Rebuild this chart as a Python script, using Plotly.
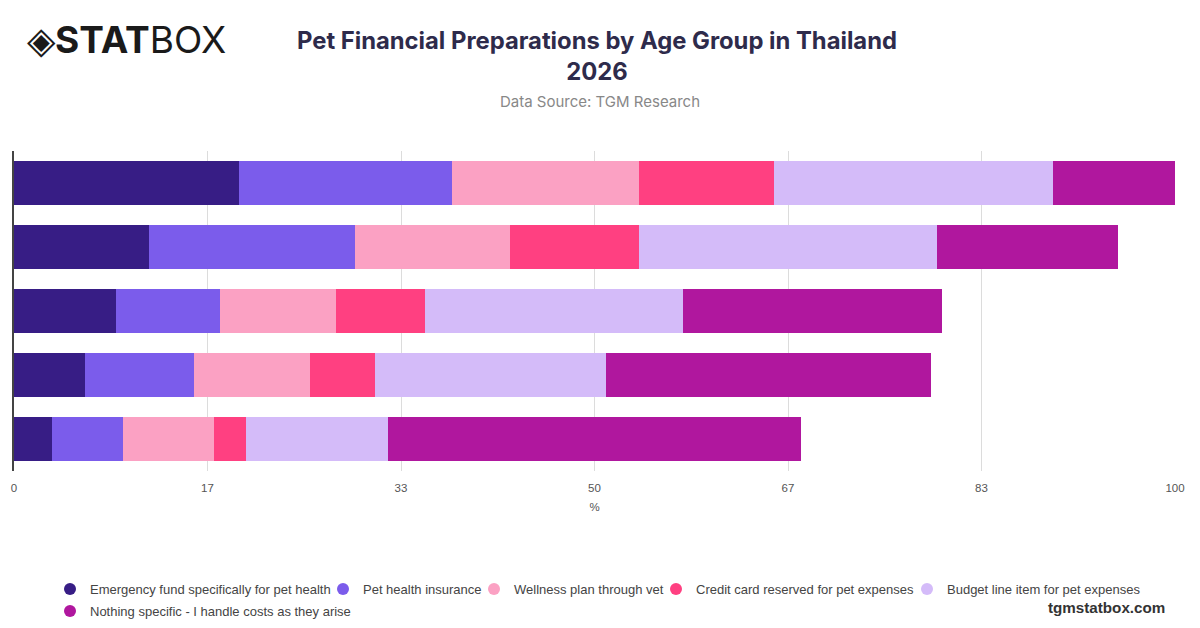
import plotly.graph_objects as go

age_groups = ["Group 1", "Group 2", "Group 3", "Group 4", "Group 5"]
series_names = [
    "Emergency fund specifically for pet health",
    "Pet health insurance",
    "Wellness plan through vet",
    "Credit card reserved for pet expenses",
    "Budget line item for pet expenses",
    "Nothing specific - I handle costs as they arise",
]
emergency_fund = [19.4, 11.6, 8.8, 6.1, 3.3]
pet_insurance = [18.3, 17.8, 8.9, 9.4, 6.1]
wellness_plan = [16.1, 13.3, 10.0, 10.0, 7.8]
credit_card = [11.7, 11.1, 7.7, 5.6, 2.8]
budget_line = [24.0, 25.7, 22.2, 19.9, 12.2]
nothing_specific = [10.5, 15.6, 22.3, 28.0, 35.6]
series_values = [emergency_fund, pet_insurance, wellness_plan, credit_card, budget_line, nothing_specific]
colors = ["#371d85", "#7b5ceb", "#fba1c3", "#ff4081", "#d4bbf9", "#b0179e"]

tick_vals = [0, 100/6, 200/6, 50, 400/6, 500/6, 100]
tick_text = ["0", "17", "33", "50", "67", "83", "100"]

W, H = 1200, 628
# plot area in pixels: x 14..1175, y 151..471
PX0, PX1, PY0, PY1 = 14, 1175, 151, 471
def cx(px):
    return px / W
def cy(py):
    return 1 - py / H

# legend entry placement (symbol centre, row centre) in pixels
legend_pos = [(70, 589), (343, 589), (494, 589), (676, 589), (927, 589), (70, 611)]
legend_ids = ["legend", "legend2", "legend3", "legend4", "legend5", "legend6"]

fig = go.Figure()
for name, vals, col in zip(series_names, series_values, colors):
    fig.add_trace(go.Bar(
        y=age_groups, x=vals, name=name, orientation="h",
        marker=dict(color=col, line=dict(width=0)),
        showlegend=False,
    ))
for name, col, lid in zip(series_names, colors, legend_ids):
    fig.add_trace(go.Scatter(
        x=[None], y=[None], mode="markers", name=name,
        marker=dict(color=col, size=15, symbol="circle"),
        legend=lid,
    ))

legend_common = dict(
    orientation="h", xanchor="left", yanchor="middle",
    xref="container", yref="container",
    font=dict(size=13, color="#444", family="Liberation Sans, Arial, sans-serif"),
    itemsizing="constant", traceorder="normal", tracegroupgap=0,
    bgcolor="rgba(0,0,0,0)", borderwidth=0,
)
legend_layout = {
    lid: dict(x=cx(px - 20), y=cy(py), **legend_common)
    for lid, (px, py) in zip(legend_ids, legend_pos)
}

fig.update_layout(
    width=W, height=H,
    barmode="stack", bargap=0.31,
    plot_bgcolor="white", paper_bgcolor="white",
    margin=dict(l=PX0, r=W - PX1, t=PY0, b=H - PY1, autoexpand=False),
    font=dict(family="Liberation Sans, Arial, sans-serif", color="#555"),
    title=dict(
        text="<b>Pet Financial Preparations by Age Group in Thailand<br>2026</b>",
        x=cx(597), xref="container", xanchor="center",
        y=cy(49), yref="container", yanchor="middle",
        font=dict(size=23.8, color="#2e2b4b", family="Inter, Roboto, sans-serif"),
    ),
    xaxis=dict(
        range=[0, 100], tickvals=tick_vals, ticktext=tick_text,
        showgrid=True, gridcolor="#dcdcdc", gridwidth=1,
        zeroline=False, showline=False,
        ticks="outside", ticklen=6, tickcolor="rgba(0,0,0,0)",
        tickfont=dict(size=11.5, color="#555"),
        title=dict(text="%", font=dict(size=11.5, color="#555"), standoff=10),
    ),
    yaxis=dict(
        autorange="reversed", showticklabels=False, showgrid=False,
        showline=True, linecolor="#444", linewidth=1.5, zeroline=False,
    ),
    annotations=[
        dict(text="Data Source: TGM Research", xref="paper", yref="paper",
             x=(600 - PX0) / (PX1 - PX0), xanchor="center",
             y=(PY1 - 101) / (PY1 - PY0), yanchor="middle",
             showarrow=False, font=dict(size=15, color="#888", family="Inter, Roboto, sans-serif")),
        dict(text="◈<b>STAT</b>BOX", xref="paper", yref="paper",
             x=(25 - PX0) / (PX1 - PX0), xanchor="left",
             y=(PY1 - 40) / (PY1 - PY0), yanchor="middle",
             showarrow=False, font=dict(size=37, color="#1a1a1a", family="Inter, Roboto, sans-serif")),
        dict(text="<b>tgmstatbox.com</b>", xref="paper", yref="paper",
             x=(1167 - PX0) / (PX1 - PX0), xanchor="right",
             y=(PY1 - 607) / (PY1 - PY0), yanchor="middle",
             showarrow=False, font=dict(size=15.2, color="#333", family="Liberation Sans, Arial, sans-serif")),
    ],
)
fig.update_layout(**legend_layout)

fig.write_html("out.html", config={"displayModeBar": False},
               post_script="document.body.style.margin='0';")
